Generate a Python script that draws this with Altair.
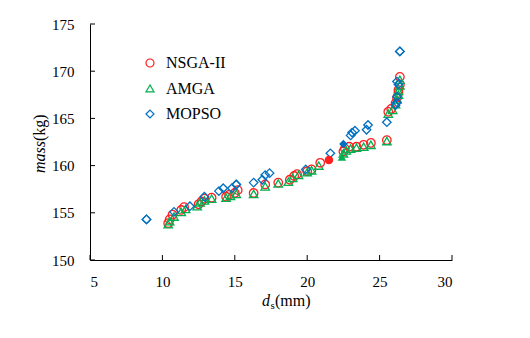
import altair as alt
import pandas as pd

# ---------------- data ----------------
methods = ["NSGA-II", "AMGA", "MOPSO"]
colors = ["#ff2020", "#00b050", "#0070c0"]
shapes = ["circle", "triangle-up", "diamond"]

nsga_x = [10.4, 10.5, 10.7, 11.3, 11.5, 12.5, 12.7, 12.9, 13.4, 14.4, 14.6, 15.0, 15.2,
          16.3, 17.1, 18.0, 18.8, 19.1, 19.3, 20.0, 20.3, 20.9, 22.5, 22.6, 22.9, 23.4,
          23.9, 24.4, 25.5, 25.6, 25.8, 26.1, 26.2, 26.3, 26.3, 26.4, 26.4]
nsga_y = [153.9, 154.3, 154.8, 155.3, 155.6, 155.9, 156.2, 156.5, 156.6, 156.7, 156.9, 157.1, 157.4,
          157.1, 158.0, 158.2, 158.5, 158.9, 159.1, 159.4, 159.6, 160.3, 161.5, 161.8, 162.0, 162.0,
          162.2, 162.4, 162.7, 165.7, 166.0, 166.6, 167.2, 167.7, 168.0, 168.6, 169.4]

amga_x = [10.4, 10.5, 10.8, 11.3, 11.6, 12.4, 12.6, 12.9, 13.4, 14.4, 14.7, 15.1, 16.3,
          17.1, 18.0, 18.7, 19.0, 19.4, 20.0, 20.3, 20.8, 22.5, 22.7, 23.0, 23.4, 23.9,
          24.4, 25.5, 25.6, 25.9, 26.1, 26.2, 26.3, 26.3, 26.4, 26.4]
amga_y = [153.8, 154.1, 154.6, 155.1, 155.4, 155.7, 156.1, 156.3, 156.5, 156.6, 156.8, 157.0, 157.0,
          157.8, 158.1, 158.3, 158.7, 159.0, 159.3, 159.5, 160.0, 161.3, 161.6, 161.8, 161.9, 162.0,
          162.2, 162.6, 165.5, 165.9, 166.5, 167.0, 167.5, 167.9, 168.5, 169.1]

mopso_x = [8.9, 8.9, 10.8, 11.9, 12.9, 13.9, 14.2, 14.8, 15.1, 15.1, 16.3, 16.9, 17.1, 17.4, 19.9,
           21.6, 23.0, 23.1, 23.3, 24.1, 24.2, 25.5, 26.1, 26.2, 26.2, 26.3, 26.2, 26.4, 26.4]
mopso_y = [154.3, 154.3, 155.1, 155.7, 156.7, 157.3, 157.6, 157.6, 158.0, 158.0, 158.2, 158.5, 159.0, 159.2, 159.6,
           161.3, 163.2, 163.5, 163.7, 163.8, 164.3, 164.6, 166.4, 166.7, 167.3, 168.6, 168.9, 172.1, 172.1]

# highlighted (filled) solutions
sel_method = ["NSGA-II", "AMGA", "MOPSO"]
sel_x = [21.5, 22.4, 22.5]
sel_y = [160.6, 160.9, 162.3]

x_ticks = [5, 10, 15, 20, 25, 30]
y_ticks = [150, 155, 160, 165, 170, 175]

x_title = ["d", "s", "(mm)"]
y_title = ["mass", "(kg)"]

# ---------------- tables ----------------
rows = []
for i, (m, xs, ys) in enumerate(zip(methods, [nsga_x, amga_x, mopso_x], [nsga_y, amga_y, mopso_y])):
    for x, y in zip(xs, ys):
        rows.append({"method": m, "ds": x, "mass": y, "idx": i})
df = pd.DataFrame(rows)
df_sel = pd.DataFrame({"method": sel_method, "ds": sel_x, "mass": sel_y})

W, H = 362, 236
FONT = "Liberation Serif"
MSIZE = 72
SW = 1.3

xscale = alt.Scale(domain=[5, 30], nice=False, zero=False)
yscale = alt.Scale(domain=[150, 175], nice=False, zero=False)
xaxis = alt.Axis(values=x_ticks, title=None, grid=False, ticks=False, tickSize=0,
                 labelPadding=14, labelFontSize=15, labelColor="black", labelFont=FONT,
                 domainColor="black", domainWidth=1, format="d")
yaxis = alt.Axis(values=y_ticks, title=None, grid=False, ticks=False, tickSize=0,
                 labelPadding=16, labelFontSize=15, labelColor="black", labelFont=FONT,
                 domainColor="black", domainWidth=1, format="d")

legend = alt.Legend(title=None, orient="none", legendX=52, legendY=31,
                    labelFontSize=16, labelFont=FONT, labelColor="black",
                    symbolSize=64, symbolStrokeWidth=1.2, rowPadding=9.5, labelOffset=8)

cscale = alt.Scale(domain=methods, range=colors)
sscale = alt.Scale(domain=methods, range=shapes)

points = alt.Chart(df).mark_point(size=MSIZE, strokeWidth=SW, filled=False, opacity=1).encode(
    x=alt.X("ds:Q", scale=xscale, axis=xaxis),
    y=alt.Y("mass:Q", scale=yscale, axis=yaxis),
    color=alt.Color("method:N", scale=cscale, legend=legend),
    shape=alt.Shape("method:N", scale=sscale, legend=legend),
    order=alt.Order("idx:Q"),
)

sel_layers = []
for m, c, s in zip(methods, colors, shapes):
    sel_layers.append(
        alt.Chart(df_sel).transform_filter(alt.datum.method == m)
        .mark_point(size=MSIZE, strokeWidth=SW, filled=True, opacity=1, color=c, shape=s)
        .encode(
            x=alt.X("ds:Q", scale=xscale, axis=xaxis),
            y=alt.Y("mass:Q", scale=yscale, axis=yaxis),
        )
    )

xt = alt.Chart(pd.DataFrame({"ds": x_ticks})).mark_rule(color="black", strokeWidth=1).encode(
    x=alt.X("ds:Q", scale=xscale, axis=xaxis),
    y=alt.value(H), y2=alt.value(H - 5),
)
yt = alt.Chart(pd.DataFrame({"mass": y_ticks})).mark_rule(color="black", strokeWidth=1).encode(
    y=alt.Y("mass:Q", scale=yscale, axis=yaxis),
    x=alt.value(0), x2=alt.value(5),
)

def txt(s, x, y, size=16, style="normal", angle=0, baseline="alphabetic"):
    return alt.Chart(pd.DataFrame({"t": [s]})).mark_text(
        font=FONT, fontSize=size, fontStyle=style, color="black", align="left",
        baseline=baseline, angle=angle,
    ).encode(text="t:N", x=alt.value(x), y=alt.value(y))

titles = [
    txt(x_title[0], 172, 282, 16, "italic"),
    txt(x_title[1], 180.5, 285, 11),
    txt(x_title[2], 185, 282, 16),
    txt(y_title[0], -50, 149, 16, "italic", 270, "middle"),
    txt(y_title[1], -50, 117, 16, "normal", 270, "middle"),
]

chart = alt.layer(points, *sel_layers, xt, yt, *titles).properties(
    width=W, height=H,
    autosize=alt.AutoSizeParams(type="none"),
    padding={"left": 82, "top": 16, "right": 60, "bottom": 60},
).configure(font=FONT).configure_view(stroke=None).configure_legend(
    labelFont=FONT
).configure_axis(labelFont=FONT)

chart.save("out.html", embed_options={"renderer": "svg", "actions": False})
